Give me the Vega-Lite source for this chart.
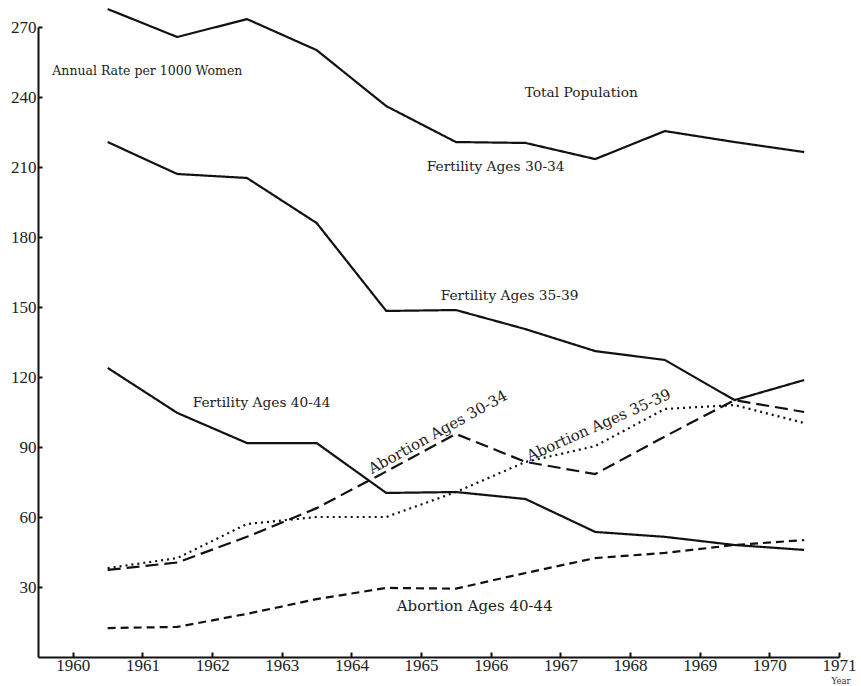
{
  "$schema": "https://vega.github.io/schema/vega-lite/v6.json",
  "autosize": "none",
  "width": 801,
  "height": 630,
  "padding": {"left": 38, "top": 27, "right": 22, "bottom": 29},
  "background": "white",
  "config": {"view": {"stroke": null}},
  "datasets": {
    "series": [
      {"series": "Fertility Ages 30-34", "year": 1960.5, "value": 277.7},
      {"series": "Fertility Ages 30-34", "year": 1961.5, "value": 265.7},
      {"series": "Fertility Ages 30-34", "year": 1962.5, "value": 273.4},
      {"series": "Fertility Ages 30-34", "year": 1963.5, "value": 260.1},
      {"series": "Fertility Ages 30-34", "year": 1964.5, "value": 236.1},
      {"series": "Fertility Ages 30-34", "year": 1965.5, "value": 220.7},
      {"series": "Fertility Ages 30-34", "year": 1966.5, "value": 220.3},
      {"series": "Fertility Ages 30-34", "year": 1967.5, "value": 213.4},
      {"series": "Fertility Ages 30-34", "year": 1968.5, "value": 225.4},
      {"series": "Fertility Ages 30-34", "year": 1969.5, "value": 220.7},
      {"series": "Fertility Ages 30-34", "year": 1970.5, "value": 216.4},
      {"series": "Fertility Ages 35-39", "year": 1960.5, "value": 220.7},
      {"series": "Fertility Ages 35-39", "year": 1961.5, "value": 207.0},
      {"series": "Fertility Ages 35-39", "year": 1962.5, "value": 205.3},
      {"series": "Fertility Ages 35-39", "year": 1963.5, "value": 186.0},
      {"series": "Fertility Ages 35-39", "year": 1964.5, "value": 148.3},
      {"series": "Fertility Ages 35-39", "year": 1965.5, "value": 148.7},
      {"series": "Fertility Ages 35-39", "year": 1966.5, "value": 140.5},
      {"series": "Fertility Ages 35-39", "year": 1967.5, "value": 131.1},
      {"series": "Fertility Ages 35-39", "year": 1968.5, "value": 127.3},
      {"series": "Fertility Ages 35-39", "year": 1969.5, "value": 110.1},
      {"series": "Fertility Ages 35-39", "year": 1970.5, "value": 118.7},
      {"series": "Fertility Ages 40-44", "year": 1960.5, "value": 123.9},
      {"series": "Fertility Ages 40-44", "year": 1961.5, "value": 104.6},
      {"series": "Fertility Ages 40-44", "year": 1962.5, "value": 91.7},
      {"series": "Fertility Ages 40-44", "year": 1963.5, "value": 91.7},
      {"series": "Fertility Ages 40-44", "year": 1964.5, "value": 70.3},
      {"series": "Fertility Ages 40-44", "year": 1965.5, "value": 70.7},
      {"series": "Fertility Ages 40-44", "year": 1966.5, "value": 67.7},
      {"series": "Fertility Ages 40-44", "year": 1967.5, "value": 53.6},
      {"series": "Fertility Ages 40-44", "year": 1968.5, "value": 51.5},
      {"series": "Fertility Ages 40-44", "year": 1969.5, "value": 48.0},
      {"series": "Fertility Ages 40-44", "year": 1970.5, "value": 45.9},
      {"series": "Abortion Ages 30-34", "year": 1960.5, "value": 37.3},
      {"series": "Abortion Ages 30-34", "year": 1961.5, "value": 40.5},
      {"series": "Abortion Ages 30-34", "year": 1962.5, "value": 51.5},
      {"series": "Abortion Ages 30-34", "year": 1963.5, "value": 63.8},
      {"series": "Abortion Ages 30-34", "year": 1964.5, "value": 79.5},
      {"series": "Abortion Ages 30-34", "year": 1965.5, "value": 95.6},
      {"series": "Abortion Ages 30-34", "year": 1966.5, "value": 83.6},
      {"series": "Abortion Ages 30-34", "year": 1967.5, "value": 78.4},
      {"series": "Abortion Ages 30-34", "year": 1968.5, "value": 94.5},
      {"series": "Abortion Ages 30-34", "year": 1969.5, "value": 110.1},
      {"series": "Abortion Ages 30-34", "year": 1970.5, "value": 105.0},
      {"series": "Abortion Ages 35-39", "year": 1960.5, "value": 38.1},
      {"series": "Abortion Ages 35-39", "year": 1961.5, "value": 42.4},
      {"series": "Abortion Ages 35-39", "year": 1962.5, "value": 57.0},
      {"series": "Abortion Ages 35-39", "year": 1963.5, "value": 60.0},
      {"series": "Abortion Ages 35-39", "year": 1964.5, "value": 60.0},
      {"series": "Abortion Ages 35-39", "year": 1965.5, "value": 70.7},
      {"series": "Abortion Ages 35-39", "year": 1966.5, "value": 83.6},
      {"series": "Abortion Ages 35-39", "year": 1967.5, "value": 90.4},
      {"series": "Abortion Ages 35-39", "year": 1968.5, "value": 106.3},
      {"series": "Abortion Ages 35-39", "year": 1969.5, "value": 108.0},
      {"series": "Abortion Ages 35-39", "year": 1970.5, "value": 100.3},
      {"series": "Abortion Ages 40-44", "year": 1960.5, "value": 12.4},
      {"series": "Abortion Ages 40-44", "year": 1961.5, "value": 12.9},
      {"series": "Abortion Ages 40-44", "year": 1962.5, "value": 18.5},
      {"series": "Abortion Ages 40-44", "year": 1963.5, "value": 24.8},
      {"series": "Abortion Ages 40-44", "year": 1964.5, "value": 29.6},
      {"series": "Abortion Ages 40-44", "year": 1965.5, "value": 29.3},
      {"series": "Abortion Ages 40-44", "year": 1966.5, "value": 36.0},
      {"series": "Abortion Ages 40-44", "year": 1967.5, "value": 42.4},
      {"series": "Abortion Ages 40-44", "year": 1968.5, "value": 44.6},
      {"series": "Abortion Ages 40-44", "year": 1969.5, "value": 48.0},
      {"series": "Abortion Ages 40-44", "year": 1970.5, "value": 50.1}
    ],
    "labels": [
      {"text": "Annual Rate per 1000 Women", "x": 1961.07, "y": 251.1, "kind": "small"},
      {"text": "Total Population", "x": 1967.3, "y": 241.7, "kind": "big"},
      {"text": "Fertility Ages 30-34", "x": 1966.07, "y": 210.0, "kind": "big"},
      {"text": "Fertility Ages 35-39", "x": 1966.27, "y": 154.7, "kind": "big"},
      {"text": "Fertility Ages 40-44", "x": 1962.71, "y": 108.9, "kind": "big"},
      {"text": "Abortion Ages 40-44", "x": 1965.77, "y": 21.9, "kind": "large"}
    ],
    "yearlabel": [{"text": "Year", "x": 1971.03, "y": -8.6}],
    "rot1": [{"text": "Abortion Ages 30-34", "x": 1965.24, "y": 96.4}],
    "rot2": [{"text": "Abortion Ages 35-39", "x": 1967.55, "y": 99.4}]
  },
  "layer": [
    {
      "data": {"name": "series"},
      "mark": {"type": "line", "strokeWidth": 2.2, "color": "#111"},
      "encoding": {
        "x": {
          "field": "year", "type": "quantitative",
          "scale": {"domain": [1959.5, 1971], "nice": false, "zero": false},
          "axis": {
            "title": null, "values": [1960,1961,1962,1963,1964,1965,1966,1967,1968,1969,1970,1971],
            "format": "d", "grid": false, "domainColor": "#111", "domainWidth": 2,
            "tickColor": "#111", "tickWidth": 2, "tickSize": -5, "labelPadding": 5,
            "labelFont": "Liberation Serif", "labelFontSize": 17, "labelColor": "#222", "labelFlush": false
          }
        },
        "y": {
          "field": "value", "type": "quantitative",
          "scale": {"domain": [0, 270], "nice": false},
          "axis": {
            "title": null, "values": [30,60,90,120,150,180,210,240,270],
            "grid": false, "domainColor": "#111", "domainWidth": 2,
            "tickColor": "#111", "tickWidth": 2, "tickSize": -4, "labelPadding": 6,
            "labelFont": "Liberation Serif", "labelFontSize": 17, "labelColor": "#222", "labelFlush": false
          }
        },
        "detail": {"field": "series"},
        "strokeDash": {
          "field": "series", "type": "nominal", "legend": null,
          "scale": {
            "domain": ["Fertility Ages 30-34","Fertility Ages 35-39","Fertility Ages 40-44","Abortion Ages 30-34","Abortion Ages 35-39","Abortion Ages 40-44"],
            "range": [[1,0],[1,0],[1,0],[13,6],[2,4],[8,5]]
          }
        }
      }
    },
    {
      "data": {"name": "labels"},
      "mark": {"type": "text", "font": "DejaVu Serif", "color": "#222", "baseline": "middle", "align": "center"},
      "encoding": {
        "x": {"field": "x", "type": "quantitative"},
        "y": {"field": "y", "type": "quantitative"},
        "text": {"field": "text"},
        "size": {
          "field": "kind", "type": "nominal", "legend": null,
          "scale": {"domain": ["small", "big", "large"], "range": [12.5, 15, 16]}
        }
      }
    },
    {
      "data": {"name": "yearlabel"},
      "mark": {"type": "text", "font": "DejaVu Serif", "fontSize": 8.5, "color": "#333", "baseline": "top", "align": "center"},
      "encoding": {
        "x": {"field": "x", "type": "quantitative"},
        "y": {"field": "y", "type": "quantitative"},
        "text": {"field": "text"}
      }
    },
    {
      "data": {"name": "rot1"},
      "mark": {"type": "text", "font": "DejaVu Serif", "fontSize": 15, "color": "#222", "baseline": "middle", "align": "center", "angle": 331},
      "encoding": {
        "x": {"field": "x", "type": "quantitative"},
        "y": {"field": "y", "type": "quantitative"},
        "text": {"field": "text"}
      }
    },
    {
      "data": {"name": "rot2"},
      "mark": {"type": "text", "font": "DejaVu Serif", "fontSize": 15, "color": "#222", "baseline": "middle", "align": "center", "angle": 336},
      "encoding": {
        "x": {"field": "x", "type": "quantitative"},
        "y": {"field": "y", "type": "quantitative"},
        "text": {"field": "text"}
      }
    }
  ]
}
